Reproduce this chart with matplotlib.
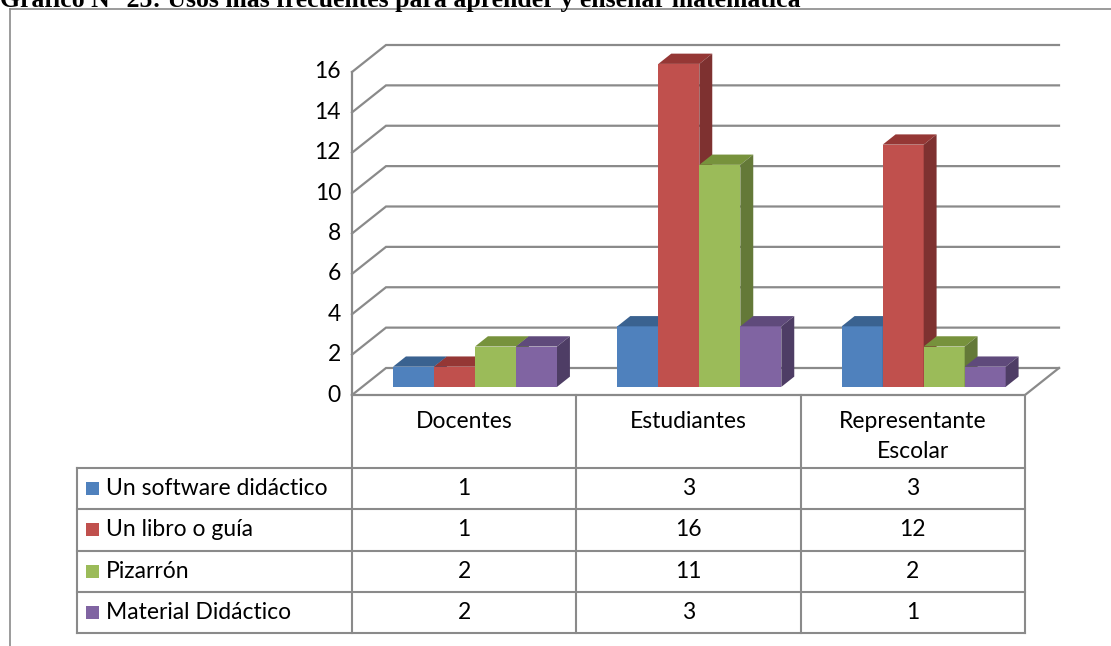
import matplotlib
matplotlib.use('Agg')
import matplotlib.pyplot as plt
from matplotlib.patches import Polygon, Rectangle

categories = ['Docentes', 'Estudiantes', 'Representante\nEscolar']
series = ['Un software didáctico', 'Un libro o guía', 'Pizarrón', 'Material Didáctico']
values = [
    [1, 3, 3],
    [1, 16, 12],
    [2, 11, 2],
    [2, 3, 1],
]
yticks = [0, 2, 4, 6, 8, 10, 12, 14, 16]
title = 'Gráfico N° 25: Usos más frecuentes para aprender y enseñar matemática'

front = ['#4F81BD', '#C0504D', '#9BBB59', '#8064A2']
topc = ['#3A6290', '#953735', '#77923C', '#5F4A7B']
side = ['#375D89', '#7E3130', '#647938', '#4E3D65']

plt.rcParams['font.family'] = ['Lato', 'DejaVu Sans']
fig = plt.figure(figsize=(11.11, 6.46), dpi=100)
ax = fig.add_axes([0, 0, 1, 1])
ax.set_xlim(0, 1111)
ax.set_ylim(646, 0)
ax.axis('off')

# plot geometry in pixels
x_left, x_right = 352, 1025
y0 = 395
unit = (395 - 72) / 16.0
ddx, ddy = 34, 27
col_w = (x_right - x_left) / len(categories)
bar_w = 41
grid = '#8a8a8a'
fs = 16.5


def proj(x, v, d):
    return (x + d * ddx, y0 - v * unit - d * ddy)


# outer frame and title
ax.plot([10, 1111], [9, 9], color=grid, lw=1.2)
ax.plot([10, 10], [9, 646], color=grid, lw=1.2)
ax.text(0, 7, title, fontsize=18.5, fontweight='bold', family='Liberation Serif',
        ha='left', va='baseline')

# walls and gridlines
for v in yticks:
    xa, ya = proj(x_left, v, 0)
    xb, yb = proj(x_left, v, 1)
    xc, yc = proj(x_right, v, 1)
    ax.plot([xa, xb, xc], [ya, yb, yc], color=grid, lw=1.6, solid_joinstyle='miter')
    ax.text(341, ya, str(v), ha='right', va='center', fontsize=fs)
ax.plot([x_left, x_left], [y0, y0 - 16 * unit], color=grid, lw=1.6)
# floor
fx = [proj(x_left, 0, 0), proj(x_right, 0, 0), proj(x_right, 0, 1)]
ax.plot([p[0] for p in fx], [p[1] for p in fx], color=grid, lw=1.6)

# bars
d0, d1 = 0.3, 0.68
for i in range(len(categories)):
    for j in range(len(series)):
        v = values[j][i]
        xl = x_left + i * col_w + bar_w - d0 * ddx + j * bar_w
        xr = xl + bar_w
        f = [proj(xl, 0, d0), proj(xr, 0, d0), proj(xr, v, d0), proj(xl, v, d0)]
        t = [proj(xl, v, d0), proj(xr, v, d0), proj(xr, v, d1), proj(xl, v, d1)]
        s = [proj(xr, 0, d0), proj(xr, 0, d1), proj(xr, v, d1), proj(xr, v, d0)]
        ax.add_patch(Polygon(f, closed=True, fc=front[j], ec='none', zorder=3))
        ax.add_patch(Polygon(t, closed=True, fc=topc[j], ec='none', zorder=3))
        ax.add_patch(Polygon(s, closed=True, fc=side[j], ec='none', zorder=3))

# data table
row_top = 468
row_h = 41.25
tab_left = 77
n = len(series)
bottom = row_top + n * row_h
ax.plot([tab_left, x_right], [row_top, row_top], color=grid, lw=1.5)
for r in range(n):
    yb = row_top + (r + 1) * row_h
    ax.plot([tab_left, x_right], [yb, yb], color=grid, lw=1.5)
ax.plot([tab_left, tab_left], [row_top, bottom], color=grid, lw=1.5)
for c in range(len(categories) + 1):
    xc = x_left + c * col_w
    ax.plot([xc, xc], [y0, bottom], color=grid, lw=1.5)

for c, name in enumerate(categories):
    for k, line in enumerate(name.split('\n')):
        ax.text(x_left + (c + 0.5) * col_w, 421 + k * 31, line, ha='center',
                va='center', fontsize=fs)

for r, name in enumerate(series):
    yc = row_top + (r + 0.5) * row_h
    ax.add_patch(Rectangle((86, yc - 6.5), 13, 13, fc=front[r], ec='none'))
    ax.text(106, yc, name, ha='left', va='center', fontsize=fs)
    for c in range(len(categories)):
        ax.text(x_left + (c + 0.5) * col_w, yc, str(values[r][c]),
                ha='center', va='center', fontsize=fs)

fig.savefig('out.png', dpi=100)
